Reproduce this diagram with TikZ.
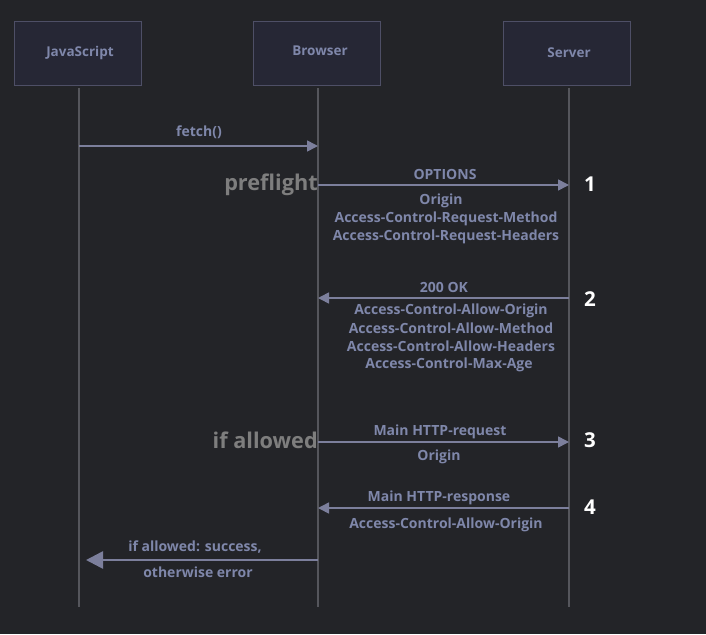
\documentclass[tikz,border=0pt]{standalone}
\usepackage{fontspec}
\setmainfont{Open Sans}
\usetikzlibrary{arrows.meta}
\definecolor{bg}{HTML}{232428}
\definecolor{boxfill}{HTML}{262735}
\definecolor{boxdraw}{HTML}{4E4F66}
\definecolor{lbl}{HTML}{7F87AA}
\definecolor{lifec}{HTML}{55565C}
\definecolor{arrc}{HTML}{7C7F9C}
\definecolor{sidec}{HTML}{7E7E7E}
\tikzset{
  actor/.style={draw=boxdraw, line width=1.6pt, fill=boxfill, minimum width=127pt, minimum height=64pt, inner sep=0pt},
  boxlab/.style={text=lbl, font=\bfseries\fontsize{13.5}{15}\selectfont, inner sep=0pt, yshift=-1.5pt},
  lifeline/.style={draw=lifec, line width=1.5pt},
  msg/.style={draw=arrc, line width=1.6pt, -{Triangle[length=11pt,width=11pt]}},
  msgbig/.style={draw=arrc, line width=2.6pt, -{Triangle[length=17pt,width=17pt]}},
  lab/.style={text=lbl, font=\bfseries\fontsize{14}{16}\selectfont, inner sep=0pt, yshift=-1.5pt},
  side/.style={text=sidec, font=\bfseries\fontsize{21.7}{24}\selectfont, inner sep=0pt, anchor=east, yshift=-1pt},
  num/.style={text=white, font=\bfseries\fontsize{20.5}{22}\selectfont, inner sep=0pt}
}
\begin{document}
\begin{tikzpicture}[x=1pt,y=-1pt]
\fill[bg] (0,0) rectangle (706,634);
\useasboundingbox (0,0) rectangle (706,634);
% actors
\node[actor] (js) at (78,53.5) {};
\node[actor] (br) at (317,53.5) {};
\node[actor] (sv) at (567,53.5) {};
\node[boxlab] (jst) at (80,51) {JavaScript};
\node[boxlab] (brt) at (320,49) {Browser};
\node[boxlab] (svt) at (569,51) {Server};
% lifelines
\coordinate (jsb) at (79,607);
\coordinate (brb) at (318,607);
\coordinate (svb) at (569,607);
\coordinate (jsa) at (79,88);
\coordinate (bra) at (318,88);
\coordinate (sva) at (569,88);
\draw[lifeline] (jsa) -- (jsb);
\draw[lifeline] (bra) -- (brb);
\draw[lifeline] (sva) -- (svb);
% message points
\coordinate (m0a) at (79,146); \coordinate (m0b) at (318,146);
\coordinate (m1a) at (318,185); \coordinate (m1b) at (569,185);
\coordinate (m2a) at (569,298); \coordinate (m2b) at (318,298);
\coordinate (m3a) at (318,442); \coordinate (m3b) at (569,442);
\coordinate (m4a) at (569,508); \coordinate (m4b) at (318,508);
\coordinate (m5a) at (318,560); \coordinate (m5b) at (86,560);
\draw[msg] (m0a) -- (m0b);
\draw[msg] (m1a) -- (m1b);
\draw[msg] (m2a) -- (m2b);
\draw[msg] (m3a) -- (m3b);
\draw[msg] (m4a) -- (m4b);
\draw[msgbig] (m5a) -- (m5b);
% labels
\node[lab] (l0) at (199,131) {fetch()};
\node[lab] (l1a) at (445,173) {OPTIONS};
\node[lab] (l1b) at (441,199) {Origin};
\node[lab] (l1c) at (446,217) {Access-Control-Request-Method};
\node[lab] (l1d) at (446,235) {Access-Control-Request-Headers};
\node[lab] (l2a) at (444,286) {200 OK};
\node[lab] (l2b) at (451,309) {Access-Control-Allow-Origin};
\node[lab] (l2c) at (451,327) {Access-Control-Allow-Method};
\node[lab] (l2d) at (451,345) {Access-Control-Allow-Headers};
\node[lab] (l2e) at (449,363) {Access-Control-Max-Age};
\node[lab] (l3a) at (440,430) {Main HTTP-request};
\node[lab] (l3b) at (439,455) {Origin};
\node[lab] (l4a) at (439,496) {Main HTTP-response};
\node[lab] (l4b) at (446,523) {Access-Control-Allow-Origin};
\node[lab] (l5a) at (195,546) {if allowed: success,};
\node[lab] (l5b) at (198,571) {otherwise error};
\node[side] (pf) at (318,184) {preflight};
\node[side] (ia) at (318,439) {if allowed};
\node[num] (n1) at (590,184) {1};
\node[num] (n2) at (590,299) {2};
\node[num] (n3) at (590,440) {3};
\node[num] (n4) at (590,507) {4};
\end{tikzpicture}
\end{document}
